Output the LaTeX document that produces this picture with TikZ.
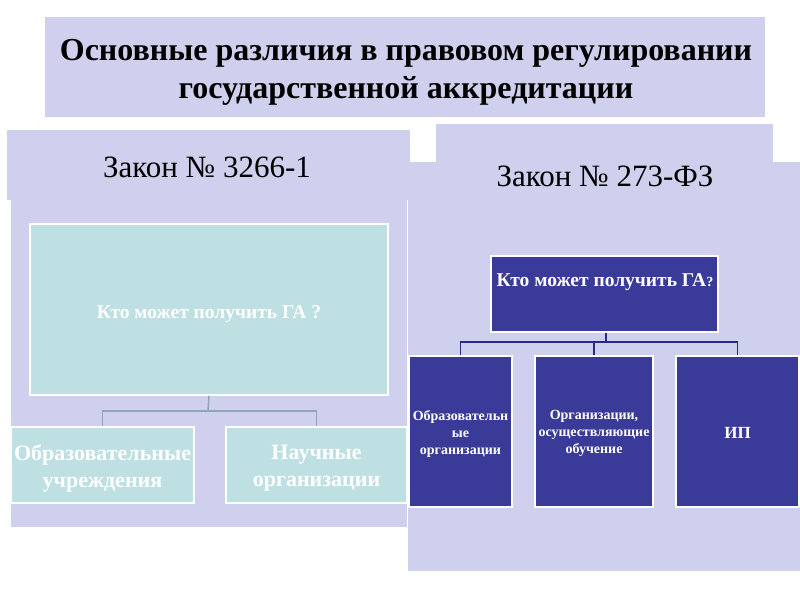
\documentclass[tikz,border=0pt]{standalone}
\usepackage{fontspec}
\setmainfont{Liberation Serif}
\definecolor{lav}{HTML}{CFCFEE}
\definecolor{teal}{HTML}{BEE0E2}
\definecolor{dblue}{HTML}{3A3A99}
\definecolor{lline}{HTML}{8FA6B4}
\definecolor{rline}{HTML}{2A2A7E}
\begin{document}
\begin{tikzpicture}[x=1pt,y=-1pt,
  panel/.style={fill=lav,draw=none},
  tealbox/.style={fill=teal,draw=white,line width=1.5pt},
  bluebox/.style={fill=dblue,draw=white,line width=1.5pt},
  whitetxt/.style={text=white,font=\bfseries,align=center},
  lconn/.style={draw=lline,line width=1.5pt},
  rconn/.style={draw=rline,line width=1.8pt}]
\useasboundingbox (0,0) rectangle (800,600);
\fill[white] (0,0) rectangle (800,600);
% title
\fill[panel] (45,17) rectangle (765,117);
\node[align=center,font={\bfseries\fontsize{32}{38}\selectfont}] (title) at (406,72)
  {Основные различия в правовом регулировании\\государственной аккредитации};
% left panel
\fill[panel] (7,130) rectangle (410,200);
\fill[panel] (11,200) rectangle (407,527);
\node[font={\fontsize{31}{36}\selectfont}] (lhead) at (207,167) {Закон № 3266-1};
% right panel
\fill[panel] (408,162) rectangle (800,571);
\fill[panel] (436,124) rectangle (773,255);
\node[font={\fontsize{31}{36}\selectfont}] (rhead) at (605,176) {Закон № 273-ФЗ};
% left tree
\node[tealbox,minimum width=358pt,minimum height=171pt] (lq) at (209,309.5) {};
\node[whitetxt,font={\bfseries\fontsize{19.5}{22}\selectfont}] (lqt) at (209,314) {Кто может получить ГА ?};
\node[tealbox,minimum width=183pt,minimum height=76pt] (l1) at (102.5,465) {};
\node[tealbox,minimum width=181pt,minimum height=76pt] (l2) at (316.5,465) {};
\node[whitetxt,font={\bfseries\fontsize{22}{27}\selectfont}] (l1t) at (102.5,468) {Образовательные\\учреждения};
\node[whitetxt,font={\bfseries\fontsize{22}{27}\selectfont}] (l2t) at (316.5,468) {Научные\\организации};
\coordinate (lj) at (208,411);
\draw[lconn] (lq.south) -- (lj);
\draw[lconn] (l1.north) |- (lj) -| (l2.north);
% right tree
\node[bluebox,minimum width=227pt,minimum height=76pt] (rq) at (604.5,294) {};
\node[text=white,font={\bfseries\fontsize{19.5}{22}\selectfont}] (rqt) at (605,282) {Кто может получить ГА{\fontsize{14}{16}\selectfont ?}};
\node[bluebox,minimum width=103pt,minimum height=151pt] (r1) at (460.5,431.5) {};
\node[bluebox,minimum width=118pt,minimum height=151pt] (r2) at (594,431.5) {};
\node[bluebox,minimum width=123pt,minimum height=151pt] (r3) at (737.5,431.5) {};
\node[whitetxt,font={\bfseries\fontsize{14}{17}\selectfont}] (r1t) at (460.5,433.5) {Образовательн\\ые\\организации};
\node[whitetxt,font={\bfseries\fontsize{14}{17}\selectfont}] (r2t) at (594,433.5) {Организации,\\осуществляющие\\обучение};
\node[whitetxt,font={\bfseries\fontsize{17}{20}\selectfont}] (r3t) at (737.5,433) {ИП};
\coordinate (rj) at (606,342);
\draw[rconn] (rq.south -| rj) -- (rj);
\draw[rconn] (r1.north) |- (rj) -| (r3.north);
\draw[rconn] (r2.north) -- (r2.north |- rj);
\end{tikzpicture}
\end{document}
